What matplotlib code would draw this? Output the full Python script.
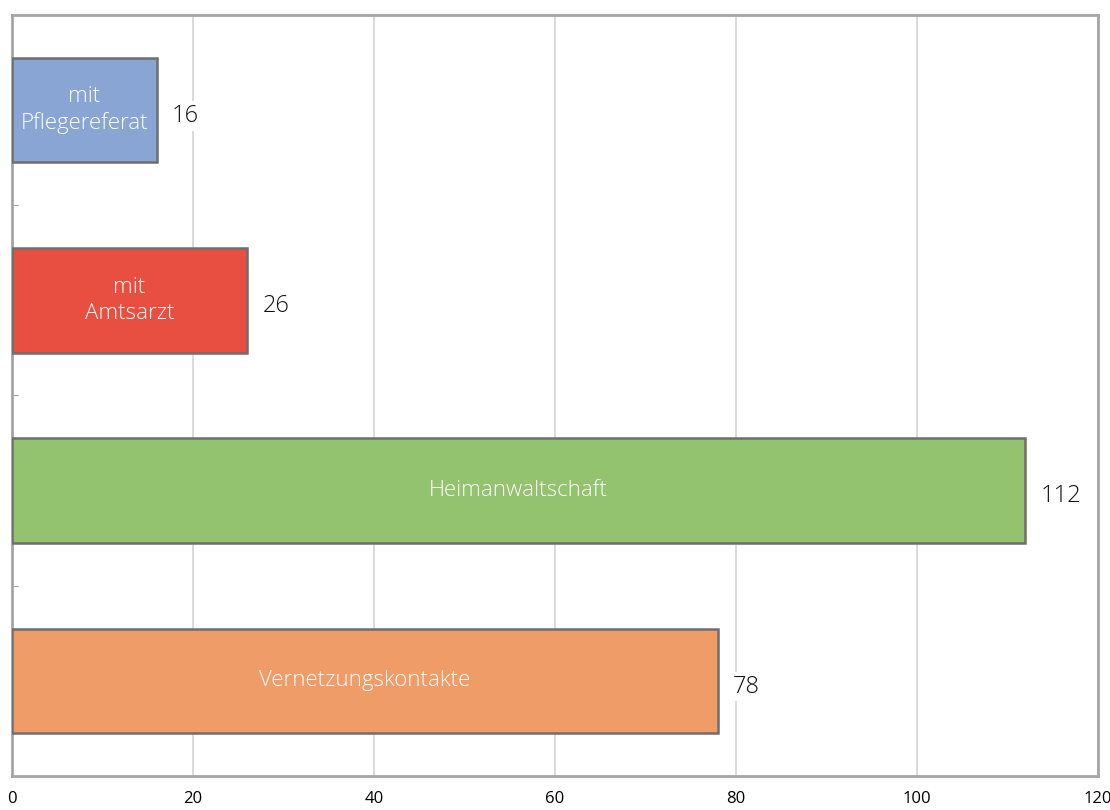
import matplotlib
matplotlib.use("Agg")
import matplotlib.pyplot as plt

categories = ["mit\nPflegereferat", "mit\nAmtsarzt", "Heimanwaltschaft", "Vernetzungskontakte"]
values = [16, 26, 112, 78]
colors = ["#88a5d4", "#e84f40", "#93c36e", "#f09c68"]
xticks = [0, 20, 40, 60, 80, 100, 120]

plt.rcParams['font.family'] = ['Open Sans', 'DejaVu Sans']

fig = plt.figure(figsize=(11.1, 8.1), dpi=100)
ax = fig.add_axes([0.0108, 0.042, 0.978, 0.9395])

ypos = list(range(len(values)))
ax.barh(ypos, values, height=0.55, color=colors, edgecolor="#6e6e6e", linewidth=1.8, zorder=3)

for y, v, c in zip(ypos, values, categories):
    ax.text(v / 2, y, c, ha="center", va="center", color="white", fontsize=16, zorder=4,
            linespacing=1.3, fontweight="light")
    ax.text(v + 1.7, y + 0.03, str(v), ha="left", va="center", color="#111111", fontsize=17,
            zorder=4, fontweight="light",
            bbox=dict(facecolor="white", edgecolor="none", pad=2))

ax.set_ylim(3.5, -0.5)
ax.set_xlim(0, 120)
ax.set_xticks(xticks)
ax.set_xticklabels([str(t) for t in xticks], fontsize=12)
ax.set_yticks([0.5, 1.5, 2.5])
ax.set_yticklabels([])
ax.tick_params(axis="y", length=4, color="#a0a0a0", direction="in")
ax.tick_params(axis="x", length=0, pad=11)
ax.grid(axis="x", color="#d4d4d4", linewidth=1.2, zorder=0)
for s in ax.spines.values():
    s.set_color("#a5a5a5")
    s.set_linewidth(2)

fig.savefig("out.png", dpi=100)
